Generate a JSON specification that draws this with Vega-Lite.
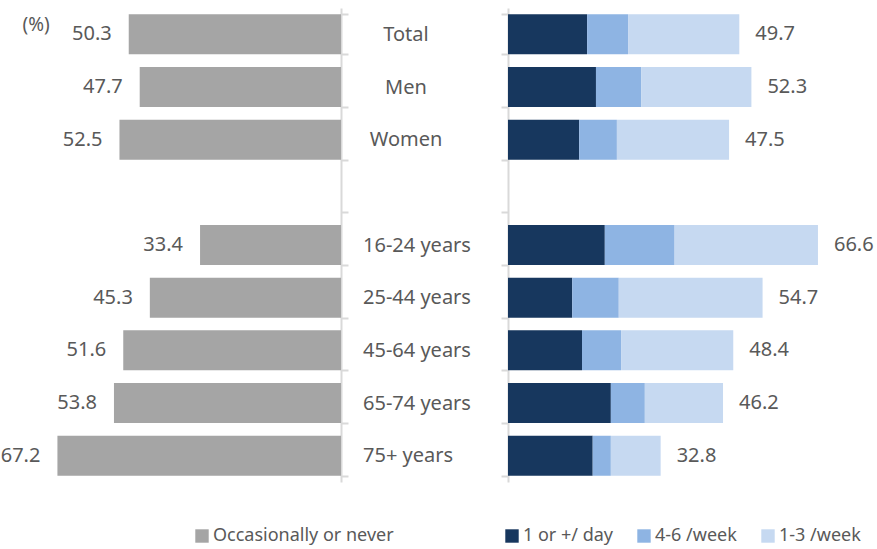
{
  "$schema": "https://vega.github.io/schema/vega-lite/v6.json",
  "background": "white",
  "padding": {"left": 0, "top": -2, "right": 0, "bottom": 0},
  "bounds": "flush",
  "spacing": 167,
  "resolve": {
    "scale": {"color": "independent", "x": "independent", "y": "independent"},
    "legend": {"color": "independent"}
  },
  "config": {
    "view": {"stroke": null},
    "font": "Noto Sans",
    "axis": {
      "domainColor": "#d9d9d9",
      "domainWidth": 2,
      "tickColor": "#d9d9d9",
      "tickWidth": 2,
      "tickSize": 7,
      "tickBand": "extent",
      "grid": false,
      "labelColor": "#595959",
      "labelFontSize": 20,
      "labelFont": "Noto Sans",
      "labelBaseline": "middle",
      "labelLimit": 300
    },
    "legend": {
      "symbolType": "square",
      "symbolSize": 180,
      "symbolStrokeWidth": 0,
      "labelFontSize": 18,
      "labelFont": "Noto Sans",
      "labelColor": "#595959",
      "labelOffset": 2,
      "labelLimit": 300,
      "columnPadding": 22,
      "padding": 0
    }
  },
  "data": {
    "values": [
      {"group": "Total", "freq": "Occasionally or never", "pct": 50.3},
      {"group": "Men", "freq": "Occasionally or never", "pct": 47.7},
      {"group": "Women", "freq": "Occasionally or never", "pct": 52.5},
      {"group": "16-24 years", "freq": "Occasionally or never", "pct": 33.4},
      {"group": "25-44 years", "freq": "Occasionally or never", "pct": 45.3},
      {"group": "45-64 years", "freq": "Occasionally or never", "pct": 51.6},
      {"group": "65-74 years", "freq": "Occasionally or never", "pct": 53.8},
      {"group": "75+ years", "freq": "Occasionally or never", "pct": 67.2},
      {"group": "Total", "freq": "1 or +/ day", "pct": 17.0},
      {"group": "Total", "freq": "4-6 /week", "pct": 8.8},
      {"group": "Total", "freq": "1-3 /week", "pct": 23.9},
      {"group": "Men", "freq": "1 or +/ day", "pct": 18.9},
      {"group": "Men", "freq": "4-6 /week", "pct": 9.7},
      {"group": "Men", "freq": "1-3 /week", "pct": 23.7},
      {"group": "Women", "freq": "1 or +/ day", "pct": 15.3},
      {"group": "Women", "freq": "4-6 /week", "pct": 8.1},
      {"group": "Women", "freq": "1-3 /week", "pct": 24.1},
      {"group": "16-24 years", "freq": "1 or +/ day", "pct": 20.8},
      {"group": "16-24 years", "freq": "4-6 /week", "pct": 15.0},
      {"group": "16-24 years", "freq": "1-3 /week", "pct": 30.8},
      {"group": "25-44 years", "freq": "1 or +/ day", "pct": 13.8},
      {"group": "25-44 years", "freq": "4-6 /week", "pct": 10.0},
      {"group": "25-44 years", "freq": "1-3 /week", "pct": 30.9},
      {"group": "45-64 years", "freq": "1 or +/ day", "pct": 15.9},
      {"group": "45-64 years", "freq": "4-6 /week", "pct": 8.4},
      {"group": "45-64 years", "freq": "1-3 /week", "pct": 24.1},
      {"group": "65-74 years", "freq": "1 or +/ day", "pct": 22.1},
      {"group": "65-74 years", "freq": "4-6 /week", "pct": 7.3},
      {"group": "65-74 years", "freq": "1-3 /week", "pct": 16.8},
      {"group": "75+ years", "freq": "1 or +/ day", "pct": 18.2},
      {"group": "75+ years", "freq": "4-6 /week", "pct": 3.9},
      {"group": "75+ years", "freq": "1-3 /week", "pct": 10.7}
    ]
  },
  "hconcat": [
    {
      "width": 340,
      "height": 474,
      "transform": [{"filter": "datum.freq === 'Occasionally or never'"}],
      "encoding": {
        "y": {
          "field": "group",
          "type": "nominal",
          "scale": {
            "domain": ["Total", "Men", "Women", " ", "16-24 years", "25-44 years", "45-64 years", "65-74 years", "75+ years"],
            "paddingInner": 0.24,
            "paddingOuter": 0.12
          },
          "axis": {
            "orient": "right",
            "labelAlign": "center",
            "labelPadding": 57.5,
            "labelExpr": "indexof(['Total', 'Men', 'Women'], datum.value) >= 0 ? datum.value : ''",
            "title": "(%)",
            "titleAngle": 0,
            "titleX": -319,
            "titleY": 7,
            "titleAlign": "left",
            "titleBaseline": "top",
            "titleFontSize": 19,
            "titleFontWeight": "normal",
            "titleFont": "Noto Sans",
            "titleColor": "#595959"
          }
        },
        "x": {
          "field": "pct",
          "type": "quantitative",
          "scale": {"domain": [0, 80.57], "reverse": true, "nice": false},
          "axis": null
        }
      },
      "layer": [
        {
          "mark": {"type": "bar"},
          "encoding": {
            "color": {
              "field": "freq",
              "type": "nominal",
              "scale": {"domain": ["Occasionally or never"], "range": ["#a5a5a5"]},
              "legend": {"orient": "none", "legendX": 192, "legendY": 519, "direction": "horizontal", "title": null}
            }
          }
        },
        {
          "mark": {"type": "text", "align": "right", "baseline": "middle", "dx": -17, "fontSize": 20, "color": "#595959"},
          "encoding": {
            "text": {"field": "pct", "type": "quantitative", "format": ".1f"}
          }
        }
      ]
    },
    {
      "width": 370,
      "height": 474,
      "transform": [{"filter": "datum.freq !== 'Occasionally or never'"}],
      "encoding": {
        "y": {
          "field": "group",
          "type": "nominal",
          "scale": {
            "domain": ["Total", "Men", "Women", " ", "16-24 years", "25-44 years", "45-64 years", "65-74 years", "75+ years"],
            "paddingInner": 0.24,
            "paddingOuter": 0.12
          },
          "axis": {
            "orient": "left",
            "title": null,
            "labelAlign": "left",
            "labelPadding": 138.5,
            "labelExpr": "indexof(['Total', 'Men', 'Women', ' '], datum.value) < 0 ? datum.value : ''"
          }
        }
      },
      "layer": [
        {
          "transform": [
            {"calculate": "indexof(['1 or +/ day', '4-6 /week', '1-3 /week'], datum.freq)", "as": "stackOrder"}
          ],
          "mark": {"type": "bar"},
          "encoding": {
            "x": {
              "field": "pct",
              "type": "quantitative",
              "stack": "zero",
              "scale": {"domain": [0, 79.5], "nice": false},
              "axis": null
            },
            "order": {"field": "stackOrder", "type": "quantitative", "sort": "ascending"},
            "color": {
              "field": "freq",
              "type": "nominal",
              "sort": ["1 or +/ day", "4-6 /week", "1-3 /week"],
              "scale": {
                "domain": ["1 or +/ day", "4-6 /week", "1-3 /week"],
                "range": ["#17375e", "#8eb4e3", "#c6d9f1"]
              },
              "legend": {"orient": "none", "legendX": -5, "legendY": 519, "direction": "horizontal", "columns": 3, "title": null}
            }
          }
        },
        {
          "transform": [
            {"aggregate": [{"op": "sum", "field": "pct", "as": "total"}], "groupby": ["group"]}
          ],
          "mark": {"type": "text", "align": "left", "baseline": "middle", "dx": 16, "fontSize": 20, "color": "#595959"},
          "encoding": {
            "x": {"field": "total", "type": "quantitative"},
            "text": {"field": "total", "type": "quantitative", "format": ".1f"}
          }
        }
      ]
    }
  ]
}
